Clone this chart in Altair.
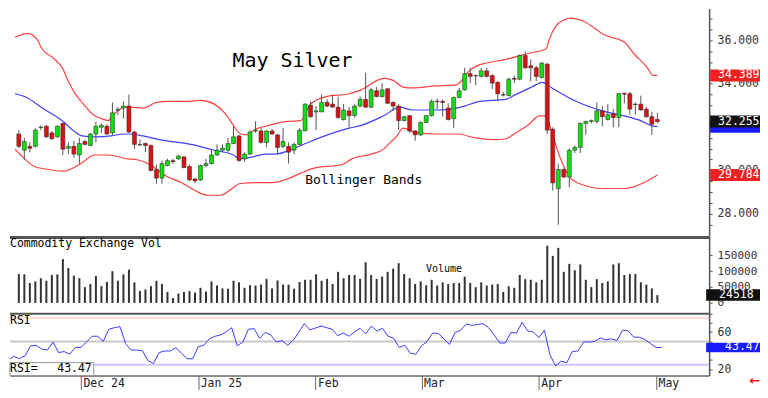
import altair as alt
import pandas as pd

# ---------------- data ----------------
opens = [31.68, 30.93, 31.11, 31.11, 31.98, 32.04, 31.73, 31.55, 32.17, 31.02,
         31.11, 30.71, 31.33, 31.15, 31.68, 31.99, 32.04, 31.73, 32.78, 32.88,
         32.97, 31.77, 31.18, 31.24, 31.15, 30.04, 29.64, 30.22, 30.45, 30.53,
         30.62, 30.18, 29.60, 29.56, 30.22, 30.31, 30.71, 30.93, 30.93, 31.24,
         31.59, 30.53, 30.75, 31.82, 31.82,
         31.29, 31.82, 31.64, 31.11, 31.11, 30.93, 31.20, 31.82, 33.01, 32.70,
         32.70, 33.14, 33.06, 32.92, 32.35, 32.75, 32.53, 32.97, 33.28, 32.92,
         33.68, 33.41, 33.77, 33.14, 32.97, 32.30, 32.53, 31.82, 31.64, 32.21,
         32.53, 33.19, 33.19, 32.88, 32.39, 33.37, 33.72, 34.47, 34.38, 34.34,
         34.60, 34.38, 34.07, 33.50,
         33.46, 34.25, 34.21, 35.31, 34.83, 34.74, 34.29, 34.91, 31.90, 29.16,
         30.04, 29.69, 30.93, 31.06, 32.17, 32.26, 32.26, 32.75, 32.35, 32.61,
         32.44, 33.56, 33.54, 33.06, 33.06, 32.83, 32.48, 32.35]
highs = [31.86, 31.50, 31.29, 31.95, 32.08, 32.08, 31.82, 32.08, 32.21, 31.29,
         31.37, 31.50, 31.42, 31.73, 32.26, 32.17, 32.13, 33.14, 32.92, 33.19,
         33.50, 31.82, 31.42, 31.29, 31.20, 30.27, 30.45, 30.53, 30.53, 30.71,
         30.66, 30.27, 29.65, 30.27, 30.53, 30.93, 31.20, 31.20, 31.50, 32.04,
         31.64, 30.84, 31.86, 32.26, 31.95,
         31.86, 31.91, 31.68, 31.95, 31.29, 31.29, 31.95, 33.10, 33.19, 32.97,
         33.50, 33.28, 33.50, 33.41, 33.06, 32.92, 33.06, 33.41, 34.51, 33.81,
         33.85, 34.03, 33.81, 33.19, 33.06, 32.52, 32.53, 31.86, 32.26, 32.53,
         33.28, 33.32, 33.28, 33.10, 33.41, 33.81, 34.74, 34.74, 34.43, 34.74,
         34.74, 34.43, 34.12, 33.63,
         34.29, 34.38, 35.35, 35.49, 35.13, 34.83, 35.00, 34.96, 31.99, 30.31,
         30.09, 31.02, 31.15, 32.21, 32.30, 32.35, 33.14, 32.97, 33.06, 32.83,
         33.59, 33.59, 33.63, 33.14, 33.45, 32.92, 32.70, 32.66]
lows = [31.02, 30.49, 30.84, 31.06, 31.86, 31.50, 31.42, 31.50, 30.71, 30.75,
        30.58, 30.31, 31.15, 31.11, 31.29, 31.73, 31.64, 31.64, 32.57, 32.39,
        31.73, 30.98, 31.11, 30.84, 29.96, 29.38, 29.38, 30.18, 30.31, 30.49,
        30.09, 29.51, 29.42, 29.51, 30.13, 30.27, 30.66, 30.84, 30.84, 31.24,
        30.40, 30.40, 30.71, 31.73, 31.24,
        31.06, 31.64, 30.75, 31.02, 30.31, 30.75, 31.15, 31.82, 32.44, 31.86,
        32.70, 32.92, 32.92, 32.39, 32.30, 31.99, 32.44, 32.92, 32.88, 32.88,
        33.37, 33.37, 33.06, 32.75, 31.86, 32.26, 31.73, 31.37, 31.59, 32.17,
        32.48, 32.83, 32.48, 32.30, 31.95, 33.32, 33.68, 34.03, 33.94, 34.29,
        34.29, 33.76, 33.19, 33.41,
        33.41, 34.03, 34.16, 34.69, 34.12, 34.12, 34.25, 31.68, 29.07, 27.48,
        29.65, 29.21, 30.80, 30.80, 31.64, 32.17, 32.17, 32.04, 32.30, 31.99,
        31.99, 33.10, 32.57, 32.57, 32.75, 32.44, 31.64, 32.17]
closes = [31.11, 31.33, 31.02, 31.86, 32.00, 31.55, 31.46, 32.04, 30.98, 31.11,
          30.75, 31.24, 31.20, 31.68, 32.04, 32.08, 31.68, 32.66, 32.82, 32.97,
          31.77, 31.20, 31.20, 31.15, 29.99, 29.64, 30.31, 30.45, 30.40, 30.66,
          30.13, 29.56, 29.51, 30.22, 30.31, 30.71, 30.93, 31.02, 31.24, 31.55,
          30.45, 30.75, 31.77, 31.86, 31.29,
          31.82, 31.68, 31.06, 31.33, 30.84, 31.20, 31.86, 33.06, 32.48, 32.75,
          33.14, 32.97, 32.92, 32.44, 32.79, 32.53, 32.97, 33.28, 32.92, 33.72,
          33.41, 33.72, 33.10, 32.97, 32.30, 32.48, 31.82, 31.64, 32.21, 32.53,
          33.19, 33.17, 33.14, 32.35, 33.37, 33.68, 34.47, 34.34, 34.36, 34.60,
          34.34, 34.03, 33.54, 33.48,
          34.21, 34.21, 35.31, 34.74, 34.74, 34.34, 34.96, 31.86, 29.42, 30.04,
          29.69, 30.93, 31.06, 32.17, 32.26, 32.30, 32.75, 32.48, 32.57, 32.44,
          33.54, 33.52, 32.83, 33.04, 32.79, 32.48, 32.13, 32.255]

volumes = [90500, 89500, 62500, 67500, 77500, 69500, 87500, 89500, 137500, 109500,
           85500, 77500, 49500, 59500, 84500, 52500, 65500, 99500, 69500, 89500,
           104500, 64500, 37500, 42500, 52500, 69500, 59500, 34500, 15500, 29500,
           34500, 37500, 32500, 47500, 35500, 67500, 54500, 45500, 44500, 69500,
           64500, 47500, 55500, 54500, 57500, 75500, 45500, 70500, 57500, 57500,
           44500, 65500, 72500, 72500, 89500, 69500, 75500, 59500, 97500, 77500,
           87500, 87500, 75500, 127500, 87500, 75500, 82500,
           97500, 107500, 124500, 90500, 77500, 59500, 67500, 55500, 72500, 54500,
           64500, 59500, 62500, 62500, 82500, 62500, 49500, 64500, 54500, 57500,
           59500, 34500, 52500, 47500, 87500, 74500, 72500, 64500, 72500, 179500,
           147500, 172500, 97500, 122500, 102500, 120500, 72500, 49500, 74500, 62500,
           67500, 120500, 124500, 87500, 90500, 90500, 64500, 57500, 45500, 24518]

rsi_start = -0.7
rsi_values = [31.2, 33.9, 31.5, 34.6, 45.2, 45.8, 41.7, 40.7, 49.3, 38.0,
              39.1, 36.3, 43.5, 43.5, 49.3, 55.5, 55.5, 50.0, 63.0, 64.7,
              65.8, 47.6, 40.7, 40.7, 40.1, 29.4, 26.3, 38.0, 39.7, 39.7,
              43.2, 37.3, 31.5, 31.2, 44.2, 45.8, 52.7, 55.5, 56.8, 60.2,
              64.7, 45.2, 49.3, 63.0, 63.7, 53.4, 59.6, 56.8, 49.3, 51.0,
              45.8, 51.0, 59.6, 69.1, 62.3, 64.3, 66.4, 64.7, 63.0, 56.1,
              58.9, 55.5, 60.2, 64.0, 57.9, 66.4, 61.2, 64.0,
              55.5, 53.4, 43.5, 45.8, 37.3, 36.3, 45.2, 50.0, 58.9, 58.6,
              52.7, 46.6, 59.6, 62.0, 68.8, 67.1, 68.1, 69.1, 64.7, 56.8,
              48.3, 48.3, 59.6, 58.9, 70.5, 61.2, 60.2, 54.1, 62.0, 35.6,
              23.7, 28.8, 27.1, 39.1, 39.7, 49.3, 49.3, 50.0, 53.7, 51.7,
              52.7, 51.0, 62.0, 61.2, 54.5, 54.5, 52.0, 47.6, 43.5, 43.47]

upper_idx = [-0.7, 1.6, 3.3, 4.2, 6.3, 8.0, 8.9, 10.1, 11.5, 13.8, 15.0, 16.3, 16.8, 18.0,
             19.1, 20.3, 22.6, 25.0, 27.3, 30.8, 33.0, 35.5, 37.2, 39.0, 40.0, 41.3, 42.5,
             43.5, 44.8, 48.8, 51.2, 53.0, 55.8, 60.0, 62.2, 66.3, 68.0, 69.8, 71.5, 75.7,
             79.2, 80.2, 81.5, 83.2, 85.0, 88.5, 92.5, 95.8, 96.3, 97.6, 99.0, 100.2,
             102.5, 106.5, 110.0, 111.7, 114.2, 115.2, 116.0]
upper_val = [36.15, 36.33, 36.06, 35.62, 35.18, 34.69, 34.16, 33.59, 33.14, 32.52, 32.39,
             32.30, 32.48, 32.75, 32.92, 32.92, 32.88, 33.14, 33.19, 33.19, 33.23, 33.06,
             32.70, 32.08, 31.73, 31.64, 31.82, 31.95, 32.04, 32.26, 32.30, 33.06, 33.41,
             33.54, 33.72, 34.25, 34.16, 33.85, 33.81, 33.90, 33.94, 34.07, 34.52, 34.83,
             34.96, 35.13, 35.40, 35.62, 36.02, 36.68, 36.95, 37.04, 36.90, 36.24, 35.93,
             35.40, 34.74, 34.39, 34.389]
mid_idx = [-0.7, 1.05, 4.55, 8.04, 9.79, 11.54, 13.81, 16.78, 19.06, 20.28, 22.55, 25.52,
           31.29, 35.49, 38.99, 40.03, 42.48, 44.76, 46.5, 51.22, 54.72, 59.97, 62.24,
           66.26, 69.23, 71.5, 75.7, 78.5, 80.94, 83.74, 88.46, 90.21, 93.18, 95.1, 96.85,
           101.22, 105.94, 109.97, 112.94, 115.21, 116.0]
mid_val = [33.54, 33.41, 32.83, 32.26, 31.86, 31.59, 31.55, 31.59, 31.68, 31.68, 31.59,
           31.42, 31.20, 30.93, 30.71, 30.53, 30.62, 30.75, 30.75, 31.15, 31.51, 31.95,
           32.08, 32.52, 32.92, 32.79, 32.79, 32.83, 32.97, 33.19, 33.28, 33.50, 33.85,
           34.07, 33.81, 33.19, 32.75, 32.52, 32.30, 32.04, 32.02]
lower_idx = [-0.7, 1.05, 2.8, 5.07, 8.04, 11.01, 13.81, 16.26, 19.76, 21.5, 23.78, 26.75,
             29.55, 31.99, 34.27, 36.54, 38.99, 40.03, 43.53, 45.98, 48.78, 51.22, 53.5,
             58.74, 60.49, 63.99, 66.26, 67.48, 68.71, 69.76, 72.2, 75.7, 79.72, 82.69,
             86.19, 88.46, 90.21, 92.48, 94.58, 95.8, 96.33, 96.85, 98.43, 100.17, 101.92,
             105.94, 109.97, 114.16, 116.0]
lower_val = [30.98, 30.53, 30.18, 30.05, 29.96, 30.27, 30.71, 30.71, 30.53, 30.49, 30.27,
             29.74, 29.43, 29.07, 28.85, 28.85, 29.21, 29.38, 29.43, 29.43, 29.60, 29.87,
             30.09, 30.27, 30.53, 30.75, 30.98, 31.29, 31.59, 31.95, 31.73, 31.68, 31.68,
             31.51, 31.42, 31.46, 31.73, 32.08, 32.52, 32.52, 32.17, 31.73, 30.53, 29.65,
             29.38, 29.16, 29.16, 29.51, 29.784]

month_ticks = [12, 33, 54, 73, 94, 115]
month_labels = ["Dec 24", "Jan 25", "Feb", "Mar", "Apr", "May"]
price_ticks = [27.5, 28, 28.5, 29, 29.5, 30, 30.5, 31, 31.5, 32, 32.5, 33, 33.5,
               34, 34.5, 35, 35.5, 36, 36.5, 37]
price_labelled = [28, 30, 34, 36]
volume_ticks = [0, 50000, 100000, 150000]
rsi_ticks = [20, 30, 40, 50, 60, 70, 80]
rsi_labelled = [20, 60]
rsi_levels = [75, 50, 25]

# ---------------- layout / style ----------------
W = 701
H_PRICE, H_VOL, H_RSI = 228, 77, 63
MONO = "DejaVu Sans Mono"
GREEN, RED = "#11dd11", "#dd1111"
BAND_RED, MID_BLUE, RSI_BLUE = "#ff4040", "#4040ff", "#3c3cff"

xs = alt.Scale(domain=[-0.7, 124.5], nice=False, zero=False)
ps = alt.Scale(domain=[26.97, 37.48], nice=False, zero=False)
vs = alt.Scale(domain=[-30600, 210000], nice=False, zero=False)
rs = alt.Scale(domain=[13.4, 80.75], nice=False, zero=False)

axis_common = dict(orient="right", title=None, grid=False, domainColor="#555",
                   domainWidth=1.5, tickColor="#555", tickSize=3, labelFont=MONO,
                   labelColor="#333", labelPadding=5)


def only(values, fmt):
    cond = " || ".join(f"datum.value == {v}" for v in values)
    return f"({cond}) ? format(datum.value, '{fmt}') : ''"


price_axis = alt.Axis(values=price_ticks, labelFontSize=11.5,
                      labelExpr=only(price_labelled, ".3f"), **axis_common)
vol_axis = alt.Axis(values=volume_ticks, labelFontSize=11, format="d", **axis_common)
rsi_axis = alt.Axis(values=rsi_ticks, labelFontSize=11.5,
                    labelExpr=only(rsi_labelled, "d"), **axis_common)
month_expr = "".join(f"datum.value == {t} ? '{l}' : " for t, l in zip(month_ticks, month_labels)) + "''"
x_axis = alt.Axis(orient="bottom", values=month_ticks, labelExpr=month_expr, title=None,
                  grid=False, tickSize=14, labelPadding=-12, labelAlign="left",
                  labelBaseline="top", labelOffset=2, labelFlush=False, labelOverlap=False,
                  domainColor="#666", domainWidth=1.5, tickColor="#666", tickWidth=1,
                  labelFont=MONO, labelFontSize=11.5, labelColor="#222")


def text_at(txt, x, y, size, color="black", align="left", font=MONO, weight="normal"):
    return alt.Chart(pd.DataFrame({"t": [txt]})).mark_text(
        align=align, baseline="middle", font=font, fontSize=size, color=color,
        fontWeight=weight).encode(x=alt.value(x), y=alt.value(y), text="t:N")


def value_box(value, txt, fill, scale, axis, half, x0, x1, tx, show_text=True):
    base = alt.Chart(pd.DataFrame({"v": [value], "t": [txt]})).transform_calculate(
        lo=f"datum.v - {half}", hi=f"datum.v + {half}")
    rect = base.mark_rect(color=fill).encode(
        x=alt.value(x0), x2=alt.value(x1),
        y=alt.Y("lo:Q", scale=scale, axis=axis), y2="hi:Q")
    if not show_text:
        return [rect]
    label = base.mark_text(align="left", baseline="middle", color="white", font=MONO,
                           fontSize=11.5).encode(
        x=alt.value(tx), y=alt.Y("v:Q", scale=scale, axis=axis), text="t:N")
    return [rect, label]


def hrule(y, width):
    return alt.Chart(pd.DataFrame({"a": [0]})).mark_rule(color="#555", strokeWidth=width).encode(
        x=alt.value(0), x2=alt.value(W), y=alt.value(y))


X = alt.X("idx:Q", scale=xs, axis=None)

# ---------------- price panel ----------------
candles = pd.DataFrame({"idx": list(range(len(closes))), "open": opens, "high": highs,
                        "low": lows, "close": closes})


def band(idx, val, color):
    return alt.Chart(pd.DataFrame({"idx": idx, "v": val})).mark_line(
        color=color, strokeWidth=1.2, interpolate="monotone").encode(
        x=X, y=alt.Y("v:Q", scale=ps, axis=price_axis))


wicks = alt.Chart(candles).mark_rule(color="#555", strokeWidth=1).encode(
    x=X, y=alt.Y("low:Q", scale=ps, axis=price_axis), y2="high:Q")
bodies = alt.Chart(candles).mark_bar(size=4, stroke="#222", strokeWidth=0.5).encode(
    x=X, y=alt.Y("open:Q", scale=ps, axis=price_axis), y2="close:Q",
    color=alt.condition("datum.close >= datum.open", alt.value(GREEN), alt.value(RED)))

price_layers = [band(upper_idx, upper_val, BAND_RED), band(lower_idx, lower_val, BAND_RED),
                band(mid_idx, mid_val, MID_BLUE), wicks, bodies,
                text_at("May Silver", 223, 53, 20),
                text_at("Bollinger Bands", 296, 172, 13)]
price_layers += value_box(upper_val[-1], f"{upper_val[-1]:.3f}", "#ee2222", ps, price_axis, 0.277, 702, 752, 710)
price_layers += value_box(mid_val[-1], f"{mid_val[-1]:.3f}", "#1a1aff", ps, price_axis, 0.277, 702, 752, 710,
                          show_text=False)
price_layers += value_box(closes[-1], f"{closes[-1]:.3f}", "#111111", ps, price_axis, 0.277, 702, 752, 710)
price_layers += value_box(lower_val[-1], f"{lower_val[-1]:.3f}", "#ee2222", ps, price_axis, 0.277, 702, 752, 710)
price = alt.layer(*price_layers).properties(width=W, height=H_PRICE)

# ---------------- volume panel ----------------
vdf = pd.DataFrame({"idx": list(range(len(volumes))), "vol": volumes})
vol_bars = alt.Chart(vdf).mark_bar(size=2, color="#333").encode(
    x=X, y=alt.Y("vol:Q", scale=vs, axis=vol_axis), y2=alt.datum(0))
vol_layers = [vol_bars, hrule(1.5, 3),
              text_at("Commodity Exchange Vol", 0, 8, 11.5),
              text_at("Volume", 417, 33, 10)]
vol_layers += value_box(volumes[-1], f"{volumes[-1]}", "#111111", vs, vol_axis, 18000, 698, 752, 711)
vol = alt.layer(*vol_layers).properties(width=W, height=H_VOL)

# ---------------- RSI panel ----------------
level_styles = [("#ffb0b0", 1), ("#c8c8c8", 2), ("#c8c8ff", 2)]
rsi_layers = []
for lvl, (col, sw) in zip(rsi_levels, level_styles):
    rsi_layers.append(alt.Chart(pd.DataFrame({"lvl": [lvl]})).mark_rule(color=col, strokeWidth=sw).encode(
        y=alt.Y("lvl:Q", scale=rs, axis=rsi_axis)))
rdf = pd.DataFrame({"idx": [rsi_start] + list(range(len(rsi_values) - 1)), "rsi": rsi_values})
rsi_layers.append(alt.Chart(rdf).mark_line(color=RSI_BLUE, strokeWidth=1).encode(
    x=alt.X("idx:Q", scale=xs, axis=x_axis), y=alt.Y("rsi:Q", scale=rs, axis=rsi_axis)))
rsi_layers.append(hrule(1, 2))
rsi_layers.append(text_at("RSI", 0, 8, 11.5))
rsi_layers.append(alt.Chart(pd.DataFrame({"a": [0]})).mark_rect(
    fill="white", stroke="#999", strokeWidth=1).encode(
    x=alt.value(0), x2=alt.value(84), y=alt.value(50), y2=alt.value(63)))
rsi_layers.append(text_at("RSI=", 0, 56.5, 11.5))
rsi_layers.append(text_at(f"{rsi_values[-1]:.2f}", 82, 56.5, 11.5, align="right"))
rsi_layers += value_box(rsi_values[-1], f"{rsi_values[-1]:.2f}", "#1a1aff", rs, rsi_axis, 5.1, 698, 752, 717)
rsi_layers.append(text_at("\u2190", 752, 68, 13, color="#ee1111", align="right",
                          font="DejaVu Sans", weight="bold"))
rsi = alt.layer(*rsi_layers).properties(width=W, height=H_RSI)

chart = alt.vconcat(price, vol, rsi, spacing=0).resolve_scale(
    x="independent", y="independent").properties(
    padding=0, background="white").configure_view(strokeWidth=0)

chart.save("out.html", embed_options={"renderer": "svg", "actions": False})
